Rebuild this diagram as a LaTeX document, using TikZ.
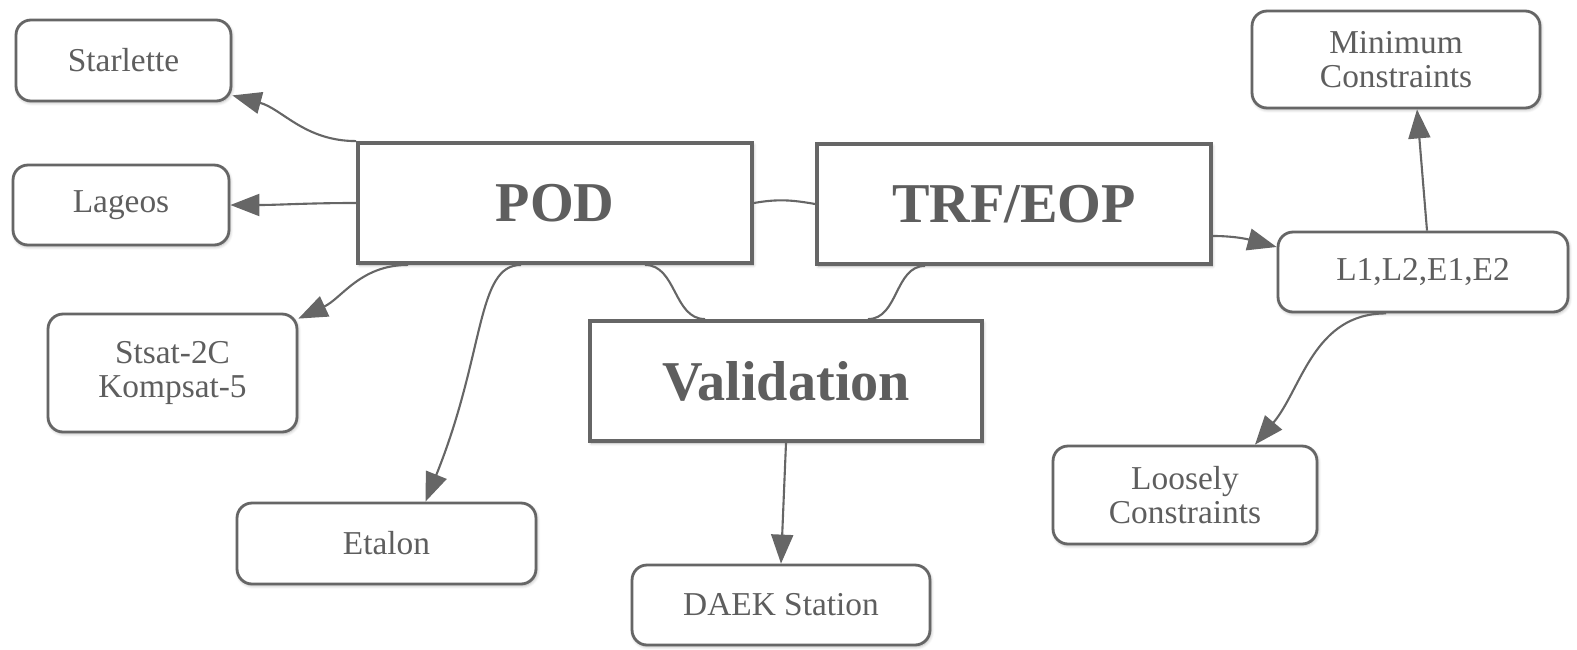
\documentclass[tikz,border=0pt]{standalone}
\usepackage{fontspec}
\setmainfont{Liberation Serif}
\usetikzlibrary{arrows.meta,shadows.blur}
\definecolor{boxgray}{HTML}{666666}
\definecolor{txtgray}{HTML}{5E5E5E}

\begin{document}
\begin{tikzpicture}[x=0.02cm,y=0.02cm,
    bigbox/.style={draw=boxgray,line width=2.2pt,fill=white,text=txtgray,
        font=\fontsize{32}{36}\selectfont\bfseries,minimum width=7.88cm,minimum height=2.4cm,
        blur shadow={shadow blur steps=6,shadow xshift=0.8pt,shadow yshift=-1.2pt,shadow opacity=30}},
    smallbox/.style={draw=boxgray,line width=1.6pt,rounded corners=0.3cm,fill=white,text=txtgray,
        align=center,font=\fontsize{19}{19.5}\selectfont,
        blur shadow={shadow blur steps=6,shadow xshift=0.6pt,shadow yshift=-1pt,shadow opacity=30}},
    link/.style={draw=boxgray,line width=1.2pt},
    arr/.style={link,-{Triangle[length=0.58cm,width=0.44cm]}}]
    \useasboundingbox (0,0) rectangle (1577,-649);

    \node[bigbox] (pod) at (555,-203) {POD};
    \node[bigbox] (trf) at (1014,-204) {TRF/EOP};
    \node[bigbox,minimum width=7.84cm] (valid) at (786,-381) {Validation};

    \node[smallbox,minimum width=4.3cm,minimum height=1.62cm] (starlette) at (123.5,-60.5) {Starlette};
    \node[smallbox,minimum width=4.32cm,minimum height=1.6cm] (lageos) at (121,-205) {Lageos};
    \node[smallbox,minimum width=4.98cm,minimum height=2.36cm] (stsat) at (172.5,-373) {Stsat-2C\\Kompsat-5};
    \node[smallbox,minimum width=5.98cm,minimum height=1.62cm] (etalon) at (386.5,-543.5) {Etalon};
    \node[smallbox,minimum width=5.96cm,minimum height=1.6cm] (daek) at (781,-605) {DAEK Station};

    \node[smallbox,minimum width=5.76cm,minimum height=1.94cm] (mincon) at (1396,-59.5) {Minimum\\Constraints};
    \node[smallbox,minimum width=5.8cm,minimum height=1.6cm] (lsol) at (1423,-272) {L1,L2,E1,E2};
    \node[smallbox,minimum width=5.28cm,minimum height=1.96cm] (loose) at (1185,-495) {Loosely\\Constraints};

    \draw[arr] (pod.north west) to[out=180,in=-15] ([yshift=0.14cm]starlette.south east);
    \draw[arr] (pod.west) to[out=180,in=0] (lageos.east);
    \draw[arr] ([xshift=1.04cm]pod.south west) to[out=180,in=25] ([yshift=-0.12cm]stsat.north east);
    \draw[arr] ([xshift=3.3cm]pod.south west) to[out=180,in=68,out distance=0.9cm,in distance=3.2cm] ([xshift=0.78cm]etalon.north);
    \draw[link] ([xshift=1.8cm]pod.south) to[out=0,in=180] ([xshift=-1.62cm]valid.north);
    \draw[link] (pod.east) to[out=10,in=170] (trf.west);
    \draw[link] ([xshift=-1.78cm]trf.south) to[out=180,in=0] ([xshift=1.64cm]valid.north);
    \draw[arr] ([yshift=-0.64cm]trf.east) to[out=0,in=165] ([yshift=0.5cm]lsol.west);
    \draw[arr] ([xshift=0.08cm]lsol.north) -- ([xshift=0.42cm]mincon.south);
    \draw[arr] ([xshift=-0.74cm]lsol.south) to[out=180,in=50] ([xshift=1.4cm]loose.north);
    \draw[arr] (valid.south) -- (daek.north);
\end{tikzpicture}
\end{document}
